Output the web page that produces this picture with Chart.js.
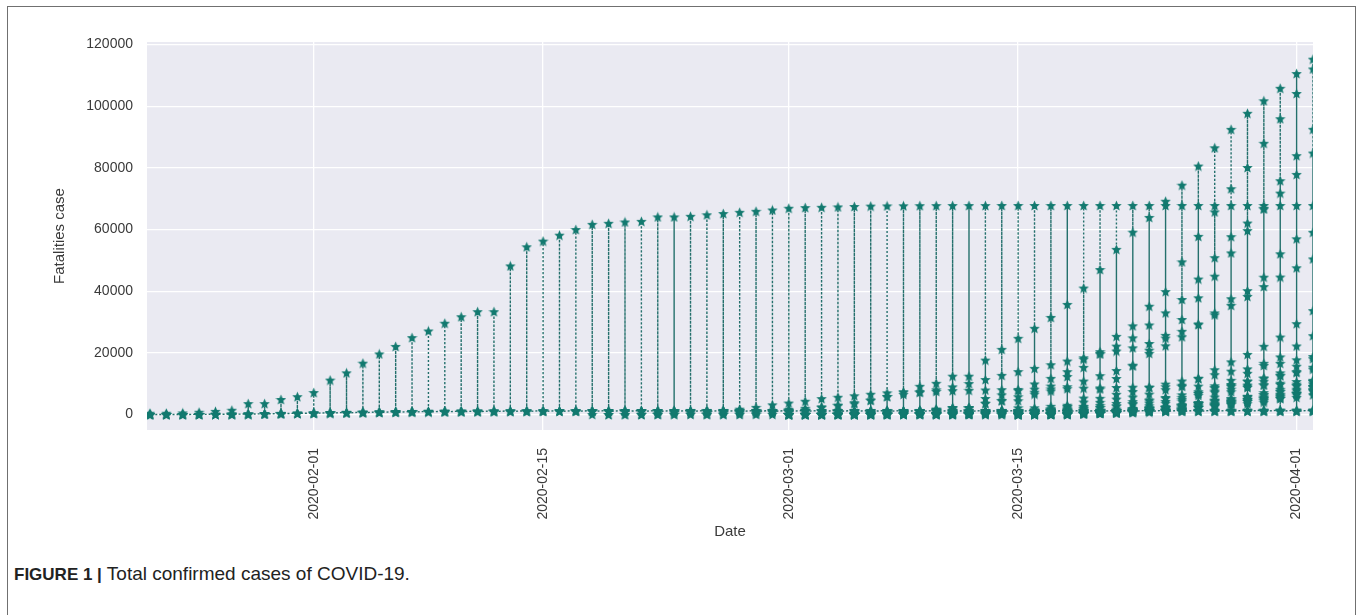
<!DOCTYPE html>
<html>
<head>
<meta charset="utf-8">
<title>Total confirmed cases of COVID-19</title>
<script src="https://cdn.jsdelivr.net/npm/chart.js@4.4.0/dist/chart.umd.min.js"></script>
<style>
    html, body { margin: 0; padding: 0; background: #fff; }
    body { width: 1360px; height: 615px; position: relative; overflow: hidden; font-family: "Liberation Sans", Arial, sans-serif; }
    #frame { position: absolute; left: 7px; top: 6px; width: 1349px; height: 640px; border: 1px solid #707070; box-sizing: border-box; }
    #chart { position: absolute; left: 0; top: 0; }
    #caption { position: absolute; left: 14px; top: 563px; font-size: 19px; color: #222; white-space: nowrap; }
    #caption b { font-size: 17px; }
</style>
</head>
<body>
<div id="frame"></div>
<canvas id="chart" width="1360" height="560"></canvas>
<div id="caption"><b>FIGURE 1 |</b> Total confirmed cases of COVID-19.</div>

<script>
// Confirmed cases per region, one value per day.
// Every series ends on 2020-04-02; shorter ones start later (first reported day).
const hubeiCases = [
    444, 444, 549, 761, 1058, 1423, 3554, 3554, 4903, 5806,
    7153, 11177, 13522, 16678, 19665, 22112, 24953, 27100, 29631, 31728,
    33366, 33366, 48206, 54406, 56249, 58182, 59989, 61682, 62031, 62442,
    62662, 64084, 64084, 64287, 64786, 65187, 65596, 65914, 66337,
    66907, 67103, 67217, 67332, 67466, 67592, 67666, 67707, 67743, 67760,
    67773, 67781, 67786, 67790, 67794, 67798, 67799, 67800, 67800, 67800,
    67800, 67800, 67800, 67801, 67801, 67801, 67801, 67801, 67801, 67801, 67801,
    67802, 67802
];
const guangdongCases = [
    26, 32, 53, 78, 111, 151, 207, 277, 354, 436,
    535, 632, 725, 813, 895, 970, 1034, 1095, 1131, 1159,
    1177, 1219, 1241, 1261, 1294, 1316, 1322, 1328, 1331, 1332,
    1333, 1339, 1342, 1345, 1347, 1347, 1347, 1348, 1349,
    1349, 1350, 1350, 1350, 1351, 1352, 1352, 1352, 1352, 1353,
    1356, 1356, 1356, 1356, 1360, 1361, 1364, 1367, 1370, 1378,
    1395, 1400, 1413, 1415, 1428, 1433, 1448, 1456, 1467, 1475, 1490,
    1501, 1507
];
const henanCases = [
    5, 5, 9, 32, 83, 128, 168, 206, 278, 352,
    422, 493, 566, 675, 764, 851, 914, 981, 1033, 1073,
    1105, 1135, 1169, 1184, 1212, 1231, 1246, 1257, 1262, 1265,
    1267, 1270, 1271, 1271, 1271, 1271, 1272, 1272, 1272,
    1272, 1272, 1272, 1272, 1272, 1272, 1272, 1272, 1272, 1272,
    1273, 1273, 1273, 1273, 1273, 1273, 1273, 1273, 1273, 1273,
    1273, 1273, 1273, 1273, 1273, 1273, 1273, 1273, 1273, 1273, 1273,
    1273, 1273
];
const zhejiangCases = [
    10, 27, 43, 62, 104, 128, 173, 296, 428, 538,
    599, 661, 724, 829, 895, 954, 1006, 1048, 1075, 1092,
    1117, 1131, 1145, 1155, 1162, 1167, 1171, 1172, 1174, 1175,
    1203, 1205, 1205, 1205, 1205, 1205, 1205, 1205, 1205,
    1205, 1206, 1213, 1213, 1215, 1215, 1215, 1215, 1215, 1215,
    1215, 1215, 1215, 1215, 1227, 1231, 1231, 1232, 1233, 1234,
    1236, 1237, 1238, 1240, 1241, 1243, 1247, 1254, 1254, 1255, 1255,
    1255, 1256
];
const hunanCases = [
    4, 9, 24, 43, 69, 100, 143, 221, 277, 332,
    389, 463, 521, 593, 661, 711, 772, 803, 838, 879,
    912, 946, 968, 988, 1001, 1004, 1006, 1007, 1008, 1010,
    1011, 1013, 1016, 1016, 1016, 1016, 1017, 1017, 1018,
    1018, 1018, 1018, 1018, 1018, 1018, 1018, 1018, 1018, 1018,
    1018, 1018, 1018, 1018, 1018, 1018, 1018, 1018, 1018, 1018,
    1018, 1018, 1018, 1018, 1018, 1018, 1018, 1018, 1018, 1018, 1018,
    1018, 1019
];
const koreaCases = [
    31, 31, 104, 204, 433, 602, 833, 977, 1261, 1766, 2337, 3150,
    3736, 4335, 5186, 5621, 6088, 6593, 7041, 7314, 7478, 7513,
    7755, 7869, 7979, 8086, 8162, 8236, 8320, 8413, 8565, 8652,
    8799, 8897, 8961, 9037, 9137, 9241, 9332, 9478, 9583, 9661, 9786,
    9887, 9976
];
const italyCases = [
    20, 62, 155, 229, 322, 453, 655, 888, 1128,
    1694, 2036, 2502, 3089, 3858, 4636, 5883, 7375, 9172, 10149,
    12462, 12462, 17660, 21157, 24747, 27980, 31506, 35713, 41035, 47021,
    53578, 59138, 63927, 69176, 74386, 80589, 86498, 92472, 97689, 101739, 105792,
    110574, 115242
];
const spainCases = [
    6, 13, 15, 32, 45,
    84, 120, 165, 222, 259, 400, 500, 673, 1073, 1695,
    2277, 2277, 5232, 6391, 7798, 9942, 11748, 13910, 17963, 20410,
    25374, 28768, 35136, 39885, 49515, 57786, 65719, 73235, 80110, 87956, 95923,
    104118, 112065
];
const germanyCases = [
    130, 159, 196, 262, 482, 670, 799, 1040, 1176, 1457,
    1908, 2078, 3675, 4585, 5795, 7272, 9257, 12327, 15320, 19848,
    22213, 24873, 29056, 32986, 37323, 43938, 50871, 57695, 62095, 66885, 71808,
    77872, 84794
];
const franceCases = [
    130, 191, 204, 285, 377, 653, 949, 1126, 1209, 1784,
    2281, 2281, 3661, 4469, 4499, 6633, 7652, 9043, 10871, 12612,
    14282, 16018, 19856, 22304, 25233, 29155, 32964, 37575, 40174, 44550, 52128,
    56989, 59105
];
const iranCases = [
    2, 5, 18, 28, 43, 61, 95, 139, 245, 388, 593,
    978, 1501, 2336, 2922, 3513, 4747, 5823, 6566, 7161, 8042,
    9000, 10075, 11364, 12729, 13938, 14991, 16169, 17361, 18407, 19644,
    20610, 21638, 23049, 24811, 27017, 29406, 32332, 35408, 38309, 41495, 44605,
    47593, 50468
];
const newYorkCases = [
    2, 11, 23, 31, 76, 106, 142, 173,
    220, 328, 421, 525, 732, 967, 1706, 2495, 5365, 8310,
    11710, 15793, 20884, 25681, 30841, 37877, 44876, 52410, 59648, 66663, 75833,
    83948, 92506
];
const ukCases = [
    36, 40, 51, 85, 115, 163, 206, 273, 321, 382,
    456, 456, 798, 1140, 1140, 1543, 1950, 2626, 2689, 3983,
    5018, 5683, 6650, 8077, 9529, 11658, 14543, 17089, 19522, 22141, 25150,
    29474, 33718
];
const switzerlandCases = [
    27, 42, 56, 90, 114, 214, 268, 337, 374, 491,
    652, 652, 1139, 1359, 2200, 2200, 2700, 3028, 4075, 5294,
    6575, 7474, 8795, 9877, 10897, 11811, 12928, 14076, 14829, 15922, 16605,
    17768, 18827
];
const newJerseyCases = [
    2, 4, 4, 6, 11, 15,
    23, 29, 69, 98, 98, 267, 267, 427, 742, 890,
    1327, 1914, 2844, 3675, 4402, 6876, 8825, 11124, 13386, 16636, 18696,
    22255, 25590
];
const turkeyCases = [
    1, 1, 5, 5, 6, 18, 47, 98, 192, 359,
    670, 1236, 1529, 1872, 2433, 3629, 5698, 7402, 9217, 10827, 13531,
    15679, 18135
];
const belgiumCases = [
    2, 8, 13, 23, 50, 109, 169, 200, 239, 267,
    314, 314, 559, 689, 886, 1058, 1243, 1486, 1795, 2257,
    2815, 3401, 3743, 4269, 4937, 6235, 7284, 9134, 10836, 11899, 12775,
    13964, 15348
];
const netherlandsCases = [
    10, 18, 24, 38, 82, 128, 188, 265, 321, 382,
    503, 503, 804, 959, 1135, 1413, 1705, 2051, 2460, 2994,
    3631, 4204, 4749, 5560, 6412, 7407, 8603, 9762, 10866, 11750, 12595,
    13614, 14697
];
const austriaCases = [
    14, 18, 21, 29, 41, 55, 79, 104, 131, 182,
    246, 302, 504, 655, 860, 1018, 1332, 1646, 2013, 2388,
    2814, 3582, 4474, 5283, 5588, 6909, 7657, 8271, 8788, 9618, 10180,
    10711, 11129
];
const californiaCases = [
    144,
    177, 221, 282, 340, 426, 557, 698, 751, 952, 1177,
    1364, 1642, 2108, 2538, 2998, 3899, 4657, 5095, 5852, 7138, 8210,
    9399, 10773
];
const washingtonCases = [
    267,
    366, 442, 568, 572, 643, 904, 1076, 1014, 1376, 1524,
    1793, 1996, 2221, 2328, 3207, 3477, 3723, 4310, 4896, 5179, 5292,
    5588, 6389
];
const michiganCases = [
    33, 53, 65, 83, 334, 552,
    788, 1329, 1793, 2296, 2845, 3657, 4650, 4650, 5486, 6498, 7615,
    9315, 10791
];
const louisianaCases = [
    91, 136, 196, 257, 392, 538,
    585, 837, 1172, 1388, 1795, 2305, 2744, 3315, 3540, 4025, 5237,
    6424, 9150
];
const massachusettsCases = [
    164, 197, 218, 218, 328, 413,
    525, 646, 777, 1159, 1838, 2417, 3240, 4257, 4955, 5752, 6620,
    7738, 8966
];
const floridaCases = [
    116, 141, 186, 314, 390, 520,
    658, 830, 1171, 1412, 1682, 2357, 2900, 3763, 4246, 5473, 6338,
    6955, 8010
];
const illinoisCases = [
    64, 93, 105, 161, 422, 585,
    753, 1049, 1285, 1537, 1865, 2538, 3026, 3491, 4596, 5057, 5994,
    6980, 7695
];
const brazilCases = [
    162, 200, 321, 372, 621, 793,
    1021, 1546, 1924, 2247, 2554, 2985, 3417, 3904, 4256, 4579, 5717,
    6836, 8044
];
const portugalCases = [
    245, 331, 448, 448, 785, 1020,
    1280, 1600, 2060, 2362, 2995, 3544, 4268, 5170, 5962, 6408, 7443,
    8251, 9034
];

// Axis ticks: x values are day numbers counted from 2020-01-22
const xTickDays = [10, 24, 39, 53, 70];
const xTickLabels = ['2020-02-01', '2020-02-15', '2020-03-01', '2020-03-15', '2020-04-01'];
const yTickValues = [0, 20000, 40000, 60000, 80000, 100000, 120000];

// Rows are ordered by date, then region, so the line runs up and down each day
const regionOrder = [
    guangdongCases, hubeiCases, henanCases, italyCases, spainCases, zhejiangCases,
    germanyCases, koreaCases, newYorkCases, franceCases, iranCases, ukCases,
    switzerlandCases, newJerseyCases, turkeyCases, belgiumCases, netherlandsCases,
    austriaCases, californiaCases, washingtonCases, michiganCases, louisianaCases,
    massachusettsCases, floridaCases, illinoisCases, brazilCases, portugalCases,
    hunanCases
];
const dayCount = hubeiCases.length;

const caseRows = [];
for (let day = 0; day < dayCount; day++) {
    regionOrder.forEach(series => {
        const idx = day - (dayCount - series.length);
        if (idx >= 0) caseRows.push({ x: day, y: series[idx] });
    });
}

const tealColor = '#12796f';
const lineColor = '#24706c';
const tickColor = '#3a3a3a';
const fontFamily = '"Liberation Sans", Arial, sans-serif';

// filled five point star used as the marker
function makeStar(size, color) {
    const c = document.createElement('canvas');
    c.width = size;
    c.height = size;
    const g = c.getContext('2d');
    const R = size / 2;
    const r = R * 0.45;
    g.beginPath();
    for (let i = 0; i < 10; i++) {
        const a = -Math.PI / 2 + i * Math.PI / 5;
        const rad = i % 2 ? r : R;
        g.lineTo(R + rad * Math.cos(a), R + rad * Math.sin(a) + 0.5);
    }
    g.closePath();
    g.fillStyle = color;
    g.fill();
    return c;
}

// grey plot background behind the grid
const plotBackground = {
    id: 'plotBackground',
    beforeDraw(chart) {
        const { ctx, chartArea: a } = chart;
        ctx.save();
        ctx.fillStyle = '#eaeaf2';
        ctx.fillRect(a.left, a.top, a.width, a.height);
        ctx.restore();
    }
};

const ctx = document.getElementById('chart').getContext('2d');
new Chart(ctx, {
    type: 'line',
    data: {
        datasets: [{
            data: caseRows,
            borderColor: lineColor,
            borderWidth: 1.4,
            borderDash: [2, 2],
            pointStyle: makeStar(11, tealColor),
            pointRadius: 5,
            pointHoverRadius: 5,
            fill: false,
            tension: 0,
            clip: 0
        }]
    },
    options: {
        responsive: false,
        animation: false,
        events: [],
        devicePixelRatio: 1,
        layout: { padding: { top: 42, right: 47, left: 0, bottom: 0 } },
        plugins: { legend: { display: false }, tooltip: { enabled: false } },
        scales: {
            x: {
                type: 'linear',
                min: -0.18,
                max: 71,
                afterBuildTicks: s => { s.ticks = xTickDays.map(v => ({ value: v })); },
                afterFit: s => { s.height = 130; },
                grid: { color: '#ffffff', lineWidth: 1.3, drawTicks: false },
                border: { display: false },
                ticks: {
                    autoSkip: false,
                    minRotation: 90,
                    maxRotation: 90,
                    padding: 18,
                    color: tickColor,
                    font: { family: fontFamily, size: 14 },
                    callback: v => xTickLabels[xTickDays.indexOf(v)]
                },
                title: {
                    display: true,
                    text: 'Date',
                    color: tickColor,
                    font: { family: fontFamily, size: 15 },
                    padding: { top: 0, bottom: 19 }
                }
            },
            y: {
                min: -5000,
                max: 120800,
                afterBuildTicks: s => { s.ticks = yTickValues.map(v => ({ value: v })); },
                afterFit: s => { s.width = 147; },
                grid: { color: '#ffffff', lineWidth: 1.3, drawTicks: false },
                border: { display: false },
                ticks: {
                    padding: 14,
                    color: tickColor,
                    font: { family: fontFamily, size: 14 },
                    callback: v => String(v)
                },
                title: {
                    display: true,
                    text: 'Fatalities case',
                    color: tickColor,
                    font: { family: fontFamily, size: 15 },
                    padding: { top: 51, bottom: 0 }
                }
            }
        }
    },
    plugins: [plotBackground]
});
</script>
</body>
</html>
